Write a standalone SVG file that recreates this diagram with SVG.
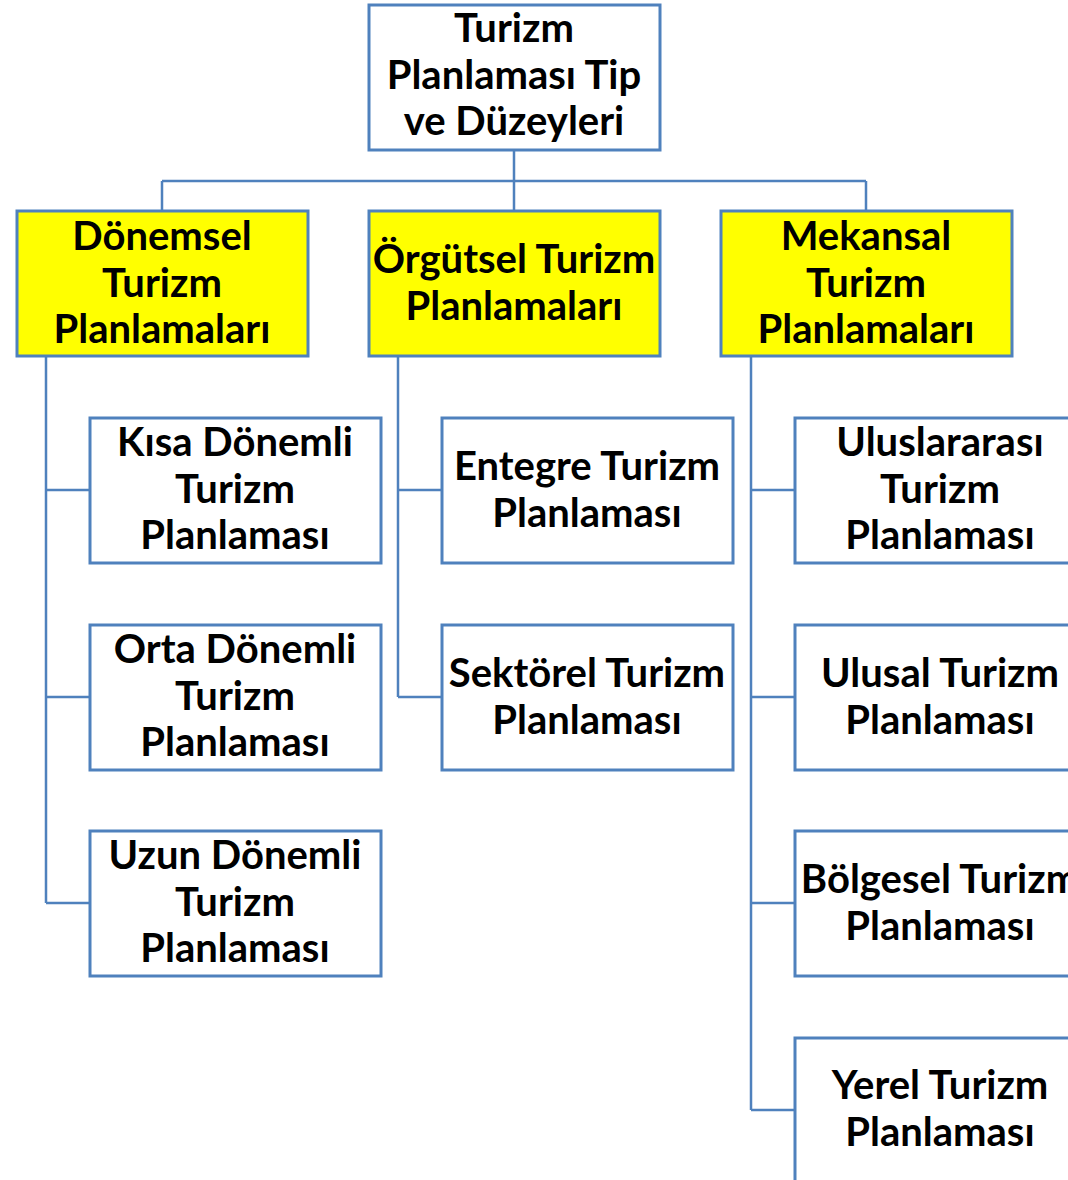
<svg xmlns="http://www.w3.org/2000/svg" width="1068" height="1180" viewBox="0 0 1068 1180">
<style>
.box{fill:#FFFFFF;stroke:#4F81BD;stroke-width:3}
.hl{fill:#FFFF00;stroke:#4F81BD;stroke-width:3}
.c{fill:none;stroke:#4F81BD;stroke-width:2.5}
text{font-family:Lato,"Open Sans","Liberation Sans",sans-serif;font-weight:700;font-size:40px;fill:#000;text-anchor:middle}
</style>
<rect width="1068" height="1180" fill="#FFFFFF"/>
<g id="connectors">
<path class="c" d="M514 150V181M162 181H866M162 181V211M514 181V211M866 181V211"/>
<path class="c" d="M46 357V903M46 490H90M46 697H90M46 903H90"/>
<path class="c" d="M398 357V697M398 490H442M398 697H442"/>
<path class="c" d="M751 357V1110M751 490H795M751 697H795M751 903H795M751 1110H795"/>
</g>
<g id="n-root"><rect class="box" x="369" y="5" width="291" height="145"/>
<text x="514" y="42">Turizm</text><text x="514" y="88.5">Planlaması Tip</text><text x="514" y="135">ve Düzeyleri</text></g>
<g id="n-donemsel"><rect class="hl" x="17" y="211" width="291" height="145"/>
<text x="162" y="250">Dönemsel</text><text x="162" y="296.5">Turizm</text><text x="162" y="343">Planlamaları</text></g>
<g id="n-orgutsel"><rect class="hl" x="369" y="211" width="291" height="145"/>
<text x="514" y="273">Örgütsel Turizm</text><text x="514" y="319.5">Planlamaları</text></g>
<g id="n-mekansal"><rect class="hl" x="721" y="211" width="291" height="145"/>
<text x="866" y="250">Mekansal</text><text x="866" y="296.5">Turizm</text><text x="866" y="343">Planlamaları</text></g>
<g id="n-kisa"><rect class="box" x="90" y="418" width="291" height="145"/>
<text x="235" y="456">Kısa Dönemli</text><text x="235" y="502.5">Turizm</text><text x="235" y="549">Planlaması</text></g>
<g id="n-orta"><rect class="box" x="90" y="625" width="291" height="145"/>
<text x="235" y="663">Orta Dönemli</text><text x="235" y="709.5">Turizm</text><text x="235" y="756">Planlaması</text></g>
<g id="n-uzun"><rect class="box" x="90" y="831" width="291" height="145"/>
<text x="235" y="869">Uzun Dönemli</text><text x="235" y="915.5">Turizm</text><text x="235" y="962">Planlaması</text></g>
<g id="n-entegre"><rect class="box" x="442" y="418" width="291" height="145"/>
<text x="587" y="480">Entegre Turizm</text><text x="587" y="526.5">Planlaması</text></g>
<g id="n-sektorel"><rect class="box" x="442" y="625" width="291" height="145"/>
<text x="587" y="687">Sektörel Turizm</text><text x="587" y="733.5">Planlaması</text></g>
<g id="n-uluslararasi"><rect class="box" x="795" y="418" width="291" height="145"/>
<text x="940" y="456">Uluslararası</text><text x="940" y="502.5">Turizm</text><text x="940" y="549">Planlaması</text></g>
<g id="n-ulusal"><rect class="box" x="795" y="625" width="291" height="145"/>
<text x="940" y="687">Ulusal Turizm</text><text x="940" y="733.5">Planlaması</text></g>
<g id="n-bolgesel"><rect class="box" x="795" y="831" width="291" height="145"/>
<text x="940" y="893">Bölgesel Turizm</text><text x="940" y="939.5">Planlaması</text></g>
<g id="n-yerel"><rect class="box" x="795" y="1038" width="291" height="145"/>
<text x="940" y="1099">Yerel Turizm</text><text x="940" y="1145.5">Planlaması</text></g>
</svg>
